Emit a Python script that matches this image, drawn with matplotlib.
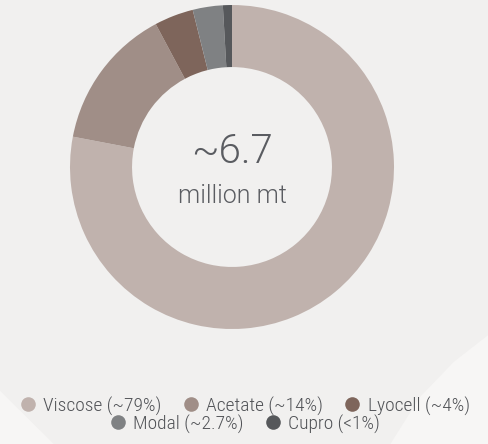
import matplotlib
matplotlib.use('Agg')
import matplotlib.pyplot as plt
from matplotlib.lines import Line2D
from matplotlib.patches import Polygon

fibres = ['Viscose', 'Acetate', 'Lyocell', 'Modal', 'Cupro']
shares = [78.0, 14.2, 3.9, 3.0, 0.9]
share_labels = ['~79%', '~14%', '~4%', '~2.7%', '<1%']
colors = ['#c0b2ad', '#a08e87', '#7e655b', '#7f8183', '#56585b']
total_text = '~6.7'
unit_text = 'million mt'

bg = '#f1f0ef'
fig = plt.figure(figsize=(4.88, 4.44), dpi=100, facecolor=bg)

# faint lighter shapes in the bottom corners
fig.patches.append(Polygon([[0, 0], [0, 0.12], [0.11, 0]], closed=True,
                           transform=fig.transFigure, facecolor='#f7f6f5',
                           edgecolor='none', zorder=0))
fig.patches.append(Polygon([[1, 0.245], [0.93, 0.185], [0.86, 0.105], [0.8, 0], [1, 0]],
                           closed=True, transform=fig.transFigure,
                           facecolor='#f7f6f5', edgecolor='none', zorder=0))

ax = fig.add_axes([0.1434, 0.259, 0.664, 0.7297])
ax.set_facecolor('none')
wedges, _ = ax.pie(shares, colors=colors, startangle=90, counterclock=False,
                   radius=1.0, wedgeprops=dict(width=0.383, edgecolor='none'))
ax.set_xlim(-1, 1)
ax.set_ylim(-1, 1)
ax.set_aspect('equal')
ax.axis('off')

ax.text(0, 0.025, total_text, ha='center', va='baseline', fontsize=29,
        family='Roboto', fontweight=300, color='#5a5c61')
ax.text(0, -0.22, unit_text, ha='center', va='baseline', fontsize=18,
        family='Roboto', fontweight=300, color='#5a5c61')

handles = [Line2D([], [], linestyle='none', marker='o', markersize=10.5,
                  markerfacecolor=c, markeredgecolor='none') for c in colors]
labels = ['%s (%s)' % (f, s) for f, s in zip(fibres, share_labels)]

legend_kw = dict(frameon=False, handletextpad=0.3, columnspacing=1.0,
                 handlelength=1.0, borderpad=0, borderaxespad=0,
                 prop=dict(family=['Roboto Condensed', 'Liberation Sans Narrow',
                                   'Liberation Sans'], size=14, weight=300),
                 labelcolor='#505256')
leg1 = fig.legend(handles[:3], labels[:3], ncol=3, loc='center',
                  bbox_to_anchor=(0.5, 1 - 406 / 444), **legend_kw)
leg2 = fig.legend(handles[3:], labels[3:], ncol=2, loc='center',
                  bbox_to_anchor=(0.5, 1 - 424 / 444), **legend_kw)

fig.savefig('out.png', dpi=100, facecolor=bg)
